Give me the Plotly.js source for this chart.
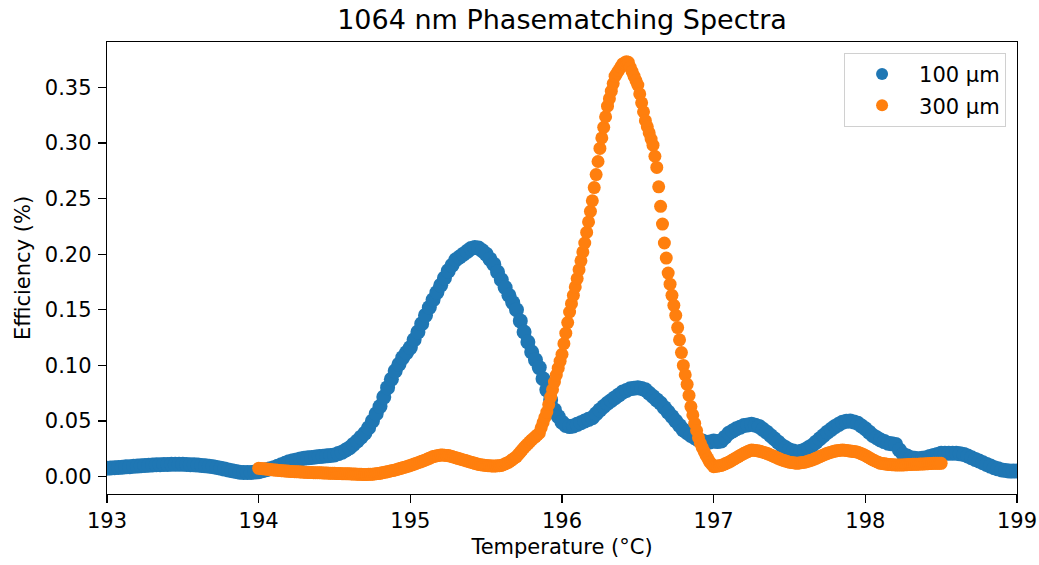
<!DOCTYPE html>
<html>
<head>
<meta charset="utf-8">
<script src="https://cdn.plot.ly/plotly-3.0.1.min.js"></script>
<style>html,body{margin:0;padding:0;background:#fff;}#chart{width:1039px;height:565px;}</style>
</head>
<body>
<div id="chart"></div>
<script>
// 100 µm sample: temperature grid start/step (°C) and efficiency (%)
const blueStart = 193.0;
const blueStep = 0.025;
const blueEff = [
0.0075,0.0078,0.008,0.0083,0.0085,0.0088,0.009,0.0093,0.0095,0.0098,
0.010,0.0103,0.0105,0.0107,0.0108,0.0109,0.011,0.0111,0.0112,0.0112,
0.0112,0.011,0.0108,0.0106,0.0104,0.010,0.0097,0.0093,0.009,0.0083,
0.0076,0.0068,0.006,0.0053,0.0046,0.004,0.0037,0.0037,0.0038,0.0041,
0.0045,0.0053,0.0062,0.0071,0.008,0.0093,0.0107,0.0121,0.0135,0.0143,
0.015,0.0158,0.0165,0.0169,0.0173,0.0177,0.018,0.0183,0.0187,0.0191,
0.0195,0.0207,0.022,0.024,0.026,0.029,0.032,0.0355,0.039,0.044,
0.050,0.0565,0.063,0.0715,0.080,0.0875,0.095,0.101,0.107,0.1115,
0.116,0.123,0.130,0.1375,0.145,0.152,0.159,0.1655,0.172,0.1785,
0.185,0.190,0.195,0.1975,0.200,0.2025,0.205,0.206,0.2055,0.203,
0.200,0.1955,0.191,0.184,0.177,0.170,0.163,0.1565,0.150,0.140,
0.130,0.121,0.112,0.105,0.098,0.088,0.078,0.069,0.060,0.054,
0.049,0.046,0.045,0.0455,0.047,0.0485,0.050,0.0515,0.053,0.0565,
0.060,0.063,0.066,0.0685,0.071,0.0735,0.076,0.0775,0.079,0.0795,
0.080,0.0792,0.078,0.075,0.072,0.069,0.066,0.062,0.058,0.054,
0.050,0.046,0.042,0.0395,0.037,0.035,0.033,0.032,0.031,0.0312,
0.032,0.0315,0.032,0.0355,0.039,0.041,0.043,0.0445,0.046,0.0465,
0.047,0.0462,0.045,0.0425,0.040,0.037,0.034,0.031,0.028,0.026,
0.024,0.023,0.022,0.0228,0.024,0.026,0.028,0.031,0.034,0.037,
0.040,0.0425,0.045,0.047,0.049,0.0497,0.050,0.0492,0.048,0.0455,
0.043,0.040,0.037,0.035,0.033,0.0315,0.030,0.0295,0.029,0.024,
0.020,0.0185,0.017,0.0165,0.016,0.0165,0.017,0.018,0.019,0.020,
0.021,0.021,0.021,0.021,0.021,0.0205,0.020,0.0185,0.017,0.0155,
0.014,0.0125,0.011,0.0095,0.008,0.007,0.006,0.0055,0.005,0.005,
0.005
];

// 300 µm sample
const orangeStart = 194.0;
const orangeStep = 0.0125;
const orangeEff = [
.0075,.0073,.0071,.0070, .0068,.0066,.0064,.0062, .0060,.0059,.0057,.0056, .0054,.0052,.0051,.0050,
.0048,.0047,.0046,.0045, .0044,.0043,.0042,.0041, .0040,.0039,.0038,.0038, .0037,.0036,.0036,.0035,
.0035,.0034,.0033,.0033, .0032,.0031,.0031,.0030, .0030,.0029,.0028,.0028, .0027,.0026,.0026,.0025,
.0025,.0024,.0023,.0023, .0022,.0021,.0021,.0020, .0020,.0020,.0021,.0021, .0022,.0024,.0026,.0028,
.0030,.0034,.0038,.0041, .0045,.0049,.0053,.0056, .0060,.0065,.0070,.0075, .0080,.0085,.0090,.0095,
.0100,.0106,.0113,.0119, .0125,.0131,.0138,.0144, .0150,.0158,.0165,.0173, .0180,.0184,.0188,.0191,
.0195,.0194,.0193,.0191, .0190,.0185,.0180,.0175, .0170,.0165,.0160,.0155, .0150,.0145,.0140,.0135,
.0130,.0125,.0120,.0115, .0110,.0108,.0105,.0103, .0100,.0099,.0098,.0096, .0095,.0096,.0098,.0099,
.0100,.0108,.0115,.0123, .0130,.0143,.0155,.0168, .0180,.0200,.0220,.0240, .0260,.0278,.0295,.0313,
.0330,.0345,.0360,.0375, .0390,.0438,.0485,.0533, .0580,.0648,.0715,.0783, .0850,.0913,.0975,.1038,
.1100,.1195,.1290,.1385, .1480,.1555,.1630,.1705, .1780,.1860,.1940,.2020, .2100,.2195,.2290,.2385,
.2480,.2598,.2715,.2833, .2950,.3045,.3140,.3235, .3330,.3398,.3465,.3533, .3600,.3628,.3655,.3683,
.3710,.3720,.3730,.3725, .3680,.3640,.3600,.3560, .3520,.3440,.3360,.3280, .3200,.3145,.3090,.3035,
.2980,.2880,.2780,.2605, .2430,.2270,.2100,.1965, .1830,.1730,.1630,.1540, .1450,.1340,.1230,.1115,
.1000,.0915,.0830,.0730, .0630,.0555,.0480,.0415, .0350,.0300,.0260,.0225, .0190,.0160,.0130,.0110,
.0090,.0093,.0095,.0098, .0100,.0108,.0115,.0123, .0130,.0140,.0150,.0160, .0170,.0180,.0190,.0200,
.0210,.0218,.0225,.0233, .0240,.0238,.0235,.0233, .0230,.0225,.0220,.0215, .0210,.0203,.0195,.0188,
.0180,.0173,.0165,.0158, .0150,.0145,.0140,.0135, .0130,.0128,.0125,.0123, .0120,.0123,.0125,.0128,
.0130,.0135,.0140,.0145, .0150,.0158,.0165,.0173, .0180,.0188,.0195,.0203, .0210,.0215,.0220,.0225,
.0230,.0233,.0235,.0238, .0240,.0238,.0235,.0233, .0230,.0228,.0225,.0223, .0220,.0213,.0205,.0198,
.0190,.0180,.0170,.0160, .0150,.0143,.0135,.0128, .0120,.0118,.0115,.0113, .0110,.0109,.0108,.0106,
.0105,.0105,.0105,.0105, .0105,.0106,.0108,.0109, .0110,.0111,.0111,.0112, .0112,.0113,.0114,.0114,
.0115,.0116,.0118,.0119, .0120,.0120,.0120,.0120, .0120
];

const seriesNames = ['100 µm', '300 µm'];
const xTicks = [193, 194, 195, 196, 197, 198, 199];
const yTicks = [0, 0.05, 0.10, 0.15, 0.20, 0.25, 0.30, 0.35];

const blueT = blueEff.map((_, i) => +(blueStart + i * blueStep).toFixed(4));
const orangeT = orangeEff.map((_, i) => +(orangeStart + i * orangeStep).toFixed(4));

const font = {family: 'DejaVu Sans, sans-serif', size: 21, color: '#000'};

const traces = [
  {x: blueT, y: blueEff, type: 'scatter', mode: 'markers', name: seriesNames[0], legendgroup: 'a',
   marker: {color: '#1f77b4', size: 15, line: {width: 0}}},
  {x: orangeT, y: orangeEff, type: 'scatter', mode: 'markers', name: seriesNames[1], legendgroup: 'b',
   marker: {color: '#ff7f0e', size: 13, line: {width: 0}}}
];

const layout = {
  width: 1039, height: 565,
  margin: {l: 107, r: 22, t: 42, b: 71, pad: 0},
  paper_bgcolor: '#fff', plot_bgcolor: '#fff',
  font: font,
  showlegend: true,
  title: {text: '1064 nm Phasematching Spectra', font: {family: font.family, size: 27, color: '#000'},
          x: 0.5, xref: 'paper', xanchor: 'center', y: 1, yref: 'paper', yanchor: 'bottom', pad: {b: 13}},
  xaxis: {
    range: [193, 199], tickvals: xTicks, ticktext: xTicks.map(String),
    showgrid: false, zeroline: false, showline: true, mirror: true, linecolor: '#000', linewidth: 1.2,
    ticks: 'outside', ticklen: 8, tickwidth: 1.2, tickcolor: '#000',
    tickfont: font,
    title: {text: 'Temperature (°C)', font: font, standoff: 6}
  },
  yaxis: {
    range: [-0.0156, 0.3907], tickvals: yTicks, ticktext: yTicks.map(v => v.toFixed(2)),
    showgrid: false, zeroline: false, showline: true, mirror: true, linecolor: '#000', linewidth: 1.2,
    ticks: 'outside', ticklen: 8, tickwidth: 1.2, tickcolor: '#000', ticklabelstandoff: 2,
    tickfont: font,
    title: {text: 'Efficiency (%)', font: font, standoff: 8}
  },
  legend: {
    x: 0.988, xanchor: 'right', y: 0.976, yanchor: 'top',
    bgcolor: 'rgba(255,255,255,0.8)', bordercolor: '#d0d0d0', borderwidth: 1,
    font: font, itemsizing: 'constant', itemwidth: 64, traceorder: 'grouped', tracegroupgap: 1
  }
};

Plotly.newPlot('chart', traces, layout, {staticPlot: true, displayModeBar: false});
</script>
</body>
</html>
